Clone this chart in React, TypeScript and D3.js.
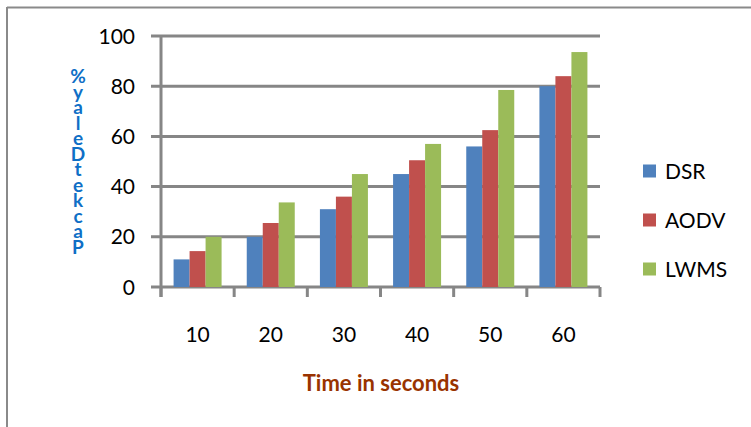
import React from "react";
import * as d3 from "d3";

const categories = ["10", "20", "30", "40", "50", "60"];
const seriesNames = ["DSR", "AODV", "LWMS"];
const dsr = [11, 20, 31, 45, 56, 80];
const aodv = [14.3, 25.5, 36, 50.5, 62.5, 84];
const lwms = [20, 33.7, 45, 57, 78.5, 93.6];
const yTicks = [0, 20, 40, 60, 80, 100];
const colors = ["#4F81BD", "#C0504D", "#9BBB59"];
const yTitleChars = ["%", "y", "a", "l", "e", "D", "t", "e", "k", "c", "a", "P"];

export default function App() {
  const W = 751, H = 427;
  const left = 161, right = 600, top = 36, bottom = 287;
  const values = [dsr, aodv, lwms];
  const x = d3.scaleBand().domain(categories).range([left, right]).paddingInner(0).paddingOuter(0);
  const x1 = d3.scaleBand().domain(seriesNames).range([0, 48]);
  const offset = (x.bandwidth() - 48) / 2;
  const y = d3.scaleLinear().domain([0, 100]).range([bottom, top]);
  const font = "Lato, 'Open Sans', sans-serif";
  const grid = "#868686";
  const tickXs = [...categories.map((c) => x(c)!), right];
  const yTitleY = d3.scaleLinear().domain([0, yTitleChars.length - 1]).range([83, 254]);
  return (
    <svg width={W} height={H} style={{ position: "absolute", left: 0, top: 0, display: "block" }}>
      <rect x={0} y={0} width={W} height={H} fill="#fff" />
      <line x1={7} y1={7.5} x2={W} y2={7.5} stroke="#8a8a8a" strokeWidth={2} />
      <line x1={7} y1={7} x2={7} y2={H} stroke="#8a8a8a" strokeWidth={2} />
      {yTicks.map((t) => (
        <g key={t}>
          <line x1={151} x2={right} y1={y(t)} y2={y(t)} stroke={grid} strokeWidth={3} />
          <text x={135} y={y(t) + 7.5} textAnchor="end" fontFamily={font} fontSize={21} fill="#000">
            {t}
          </text>
        </g>
      ))}
      <line x1={left} x2={left} y1={top} y2={bottom + 10} stroke={grid} strokeWidth={3} />
      {tickXs.map((tx, i) => (
        <line key={i} x1={tx} x2={tx} y1={bottom} y2={bottom + 10} stroke={grid} strokeWidth={3} />
      ))}
      {categories.map((c, ci) => (
        <g key={c}>
          {seriesNames.map((s, si) => (
            <rect
              key={s}
              x={x(c)! + offset + x1(s)!}
              y={y(values[si][ci])}
              width={x1.bandwidth()}
              height={bottom - y(values[si][ci])}
              fill={colors[si]}
            />
          ))}
          <text x={x(c)! + x.bandwidth() / 2} y={342} textAnchor="middle" fontFamily={font} fontSize={21} fill="#000">
            {c}
          </text>
        </g>
      ))}
      {seriesNames.map((s, i) => (
        <g key={s}>
          <rect x={643} y={164.5 + 49 * i} width={13} height={13} fill={colors[i]} />
          <text x={665} y={178.5 + 49 * i} fontFamily={font} fontSize={21} fill="#000">
            {s}
          </text>
        </g>
      ))}
      <text x={381} y={391} textAnchor="middle" fontFamily={font} fontSize={22} fontWeight="bold" fill="#993300">
        Time in seconds
      </text>
      {yTitleChars.map((ch, i) => (
        <text key={i} x={78} y={yTitleY(i)} textAnchor="middle" fontFamily={font} fontSize={19} fontWeight="bold" fill="#0F6FC6">
          {ch}
        </text>
      ))}
    </svg>
  );
}
